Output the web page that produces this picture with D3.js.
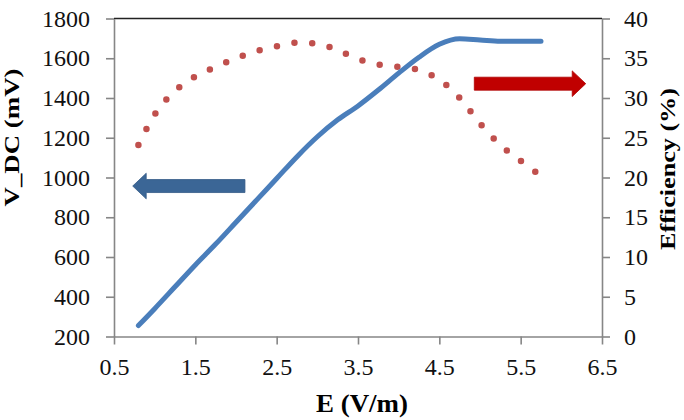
<!DOCTYPE html>
<html>
<head>
<meta charset="utf-8">
<script src="https://cdn.jsdelivr.net/npm/d3@7"></script>
<style>
    body { margin: 0; background: #fff; }
    svg { display: block; font-family: "Liberation Serif", "Times New Roman", serif; }
</style>
</head>
<body>
<div id="chart-div"></div>
<script>
// E field (V/m) at which both quantities were read
const fieldValues = [0.8, 1.0, 1.25, 1.5, 1.75, 2.0, 2.25, 2.5, 2.75, 3.0, 3.25, 3.5, 3.75, 4.0, 4.25, 4.5, 4.75, 5.0, 5.25, 5.5, 5.75];
// DC output voltage, left axis (mV)
const vdcValues = [255, 340, 450, 560, 665, 775, 885, 995, 1105, 1205, 1290, 1360, 1440, 1525, 1605, 1670, 1698, 1692, 1686, 1685, 1685];
// conversion efficiency, right axis (%)
const efficiencyValues = [24.1, 27.9, 30.9, 32.7, 33.9, 35.0, 35.9, 36.5, 36.95, 36.85, 36.0, 34.9, 34.2, 33.9, 33.5, 32.3, 30.0, 26.8, 24.1, 22.1, 20.2];

const xTicks = [0.5, 1.5, 2.5, 3.5, 4.5, 5.5, 6.5];
const leftTicks = [200, 400, 600, 800, 1000, 1200, 1400, 1600, 1800];
const rightTicks = [0, 5, 10, 15, 20, 25, 30, 35, 40];

// annotation arrows, in data units: [tail E, tip E, value]
const vdcArrow = [2.11, 0.73, 957];
const effArrow = [4.93, 6.30, 31.8];

function renderChart() {
    const margin = { top: 18.5, right: 82, bottom: 83.5, left: 114 },
        width = 684 - margin.left - margin.right,
        height = 420 - margin.top - margin.bottom;

    const svg = d3.select("#chart-div").append("svg")
        .attr("width", 684)
        .attr("height", 420)
        .append("g")
        .attr("transform", "translate(" + margin.left + "," + margin.top + ")");

    const x = d3.scaleLinear().domain([0.5, 6.5]).range([0, width]);
    const yLeft = d3.scaleLinear().domain([200, 1800]).range([height, 0]);
    const yRight = d3.scaleLinear().domain([0, 40]).range([height, 0]);

    const axisColor = "#868686";

    // top border of the plot area
    svg.append("line")
        .attr("x1", 0).attr("x2", width)
        .attr("y1", 0).attr("y2", 0)
        .attr("stroke", "#222")
        .attr("stroke-width", 1.3);

    const styleAxis = g => {
        g.select(".domain").attr("stroke", axisColor).attr("stroke-width", 1.6);
        g.selectAll(".tick line").attr("stroke", axisColor).attr("stroke-width", 1.6);
        g.selectAll(".tick text")
            .attr("fill", "#111")
            .style("font-size", "24px")
            .style("font-family", "'Liberation Serif', serif");
    };

    svg.append("g")
        .attr("transform", "translate(0," + height + ")")
        .call(d3.axisBottom(x).tickValues(xTicks).tickFormat(d3.format(".1f")).tickSize(8).tickSizeOuter(0).tickPadding(13))
        .call(styleAxis);

    svg.append("g")
        .call(d3.axisLeft(yLeft).tickValues(leftTicks).tickFormat(d3.format("d")).tickSize(8).tickSizeOuter(0).tickPadding(16))
        .call(styleAxis);

    svg.append("g")
        .attr("transform", "translate(" + width + ",0)")
        .call(d3.axisRight(yRight).tickValues(rightTicks).tickFormat(d3.format("d")).tickSize(8).tickSizeOuter(0).tickPadding(14))
        .call(styleAxis);

    // efficiency: round dotted line
    const effLine = d3.line()
        .x((d, i) => x(fieldValues[i]))
        .y(d => yRight(d))
        .curve(d3.curveMonotoneX);

    svg.append("path")
        .datum(efficiencyValues)
        .attr("d", effLine)
        .attr("fill", "none")
        .attr("stroke", "#c0504d")
        .attr("stroke-width", 6.5)
        .attr("stroke-linecap", "round")
        .attr("stroke-dasharray", "0,17.8");

    // V_DC: solid line
    const vdcLine = d3.line()
        .x((d, i) => x(fieldValues[i]))
        .y(d => yLeft(d))
        .curve(d3.curveMonotoneX);

    svg.append("path")
        .datum(vdcValues)
        .attr("d", vdcLine)
        .attr("fill", "none")
        .attr("stroke", "#4a7ebb")
        .attr("stroke-width", 5)
        .attr("stroke-linecap", "round")
        .attr("stroke-linejoin", "round");

    // block arrows pointing to the axis each curve belongs to
    function drawArrow(tailX, tipX, cy, color, edge) {
        const dir = tipX > tailX ? 1 : -1;
        const headLen = 13.5, shaft = 6.5, head = 12.8;
        const baseX = tipX - dir * headLen;
        const pts = [
            [tailX, cy - shaft], [baseX, cy - shaft], [baseX, cy - head],
            [tipX, cy], [baseX, cy + head], [baseX, cy + shaft], [tailX, cy + shaft]
        ];
        svg.append("polygon")
            .attr("points", pts.map(p => p.join(",")).join(" "))
            .attr("fill", color)
            .attr("stroke", edge)
            .attr("stroke-width", 0.8);
    }

    drawArrow(x(vdcArrow[0]), x(vdcArrow[1]), yLeft(vdcArrow[2]), "#3b6696", "#345a86");
    drawArrow(x(effArrow[0]), x(effArrow[1]), yRight(effArrow[2]), "#c00000", "#b00000");

    // axis titles
    svg.append("text")
        .attr("transform", "rotate(-90)")
        .attr("x", -(137.5 - margin.top))
        .attr("y", 12 - margin.left + 7)
        .style("text-anchor", "middle")
        .style("font-size", "21px")
        .style("font-weight", "bold")
        .attr("textLength", 138)
        .attr("lengthAdjust", "spacingAndGlyphs")
        .text("V_DC (mV)");

    svg.append("text")
        .attr("transform", "rotate(-90)")
        .attr("x", -(169 - margin.top))
        .attr("y", 668 - margin.left + 7)
        .style("text-anchor", "middle")
        .style("font-size", "21px")
        .style("font-weight", "bold")
        .attr("textLength", 162)
        .attr("lengthAdjust", "spacingAndGlyphs")
        .text("Efficiency (%)");

    svg.append("text")
        .attr("x", 362 - margin.left)
        .attr("y", 412 - margin.top)
        .style("text-anchor", "middle")
        .style("font-size", "25px")
        .style("font-weight", "bold")
        .attr("textLength", 92)
        .attr("lengthAdjust", "spacingAndGlyphs")
        .text("E (V/m)");
}

renderChart();
</script>
</body>
</html>
